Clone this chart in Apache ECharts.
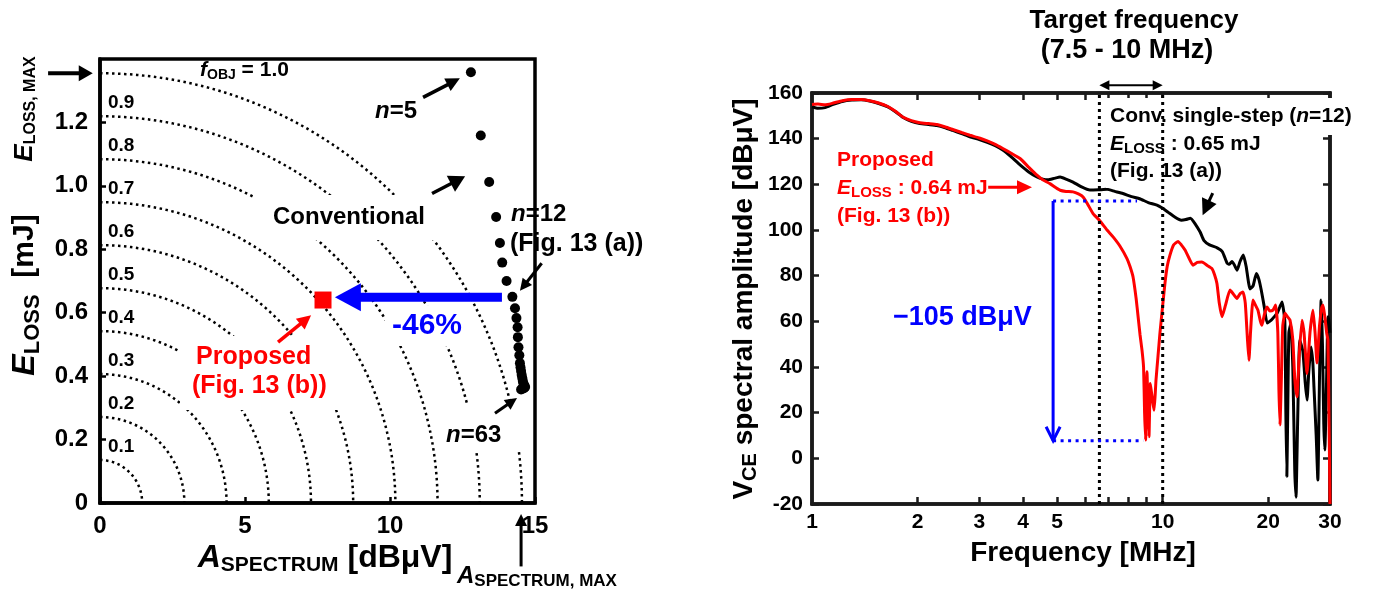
<!DOCTYPE html>
<html>
<head>
<meta charset="utf-8">
<script src="https://cdn.jsdelivr.net/npm/echarts@6/dist/echarts.min.js"></script>
<style>
  html, body { margin: 0; padding: 0; background: #ffffff; }
  #chart { width: 1383px; height: 595px; }
</style>
</head>
<body>
<div id="chart"></div>
<script>
// ---------- Left panel: E_LOSS versus A_SPECTRUM ----------
const A_MAX = 14.55;          // A_SPECTRUM,MAX [dBuV]
const E_MAX = 1.355;          // E_LOSS,MAX [mJ]
const F_OBJ_LEVELS = [0.1, 0.2, 0.3, 0.4, 0.5, 0.6, 0.7, 0.8, 0.9, 1.0];

// conventional single-step designs, n = 5 ... 63
const CONV_A = [12.79, 13.13, 13.42, 13.66, 13.79, 13.87, 14.02, 14.22, 14.31, 14.36,
                14.40, 14.41, 14.43, 14.46, 14.48, 14.50, 14.52, 14.54, 14.56, 14.58,
                14.60, 14.63, 14.66, 14.62, 14.56, 14.52];
const CONV_E = [1.358, 1.159, 1.012, 0.902, 0.820, 0.758, 0.700, 0.650, 0.614, 0.583,
                0.554, 0.523, 0.491, 0.466, 0.441, 0.428, 0.416, 0.404, 0.394, 0.385,
                0.377, 0.371, 0.366, 0.362, 0.360, 0.358];
// proposed design
const PROP_A = [7.69];
const PROP_E = [0.64];

// ---------- Right panel: V_CE spectra ----------
const FREQ_CONV = [1.00, 1.04, 1.09, 1.15, 1.22, 1.30, 1.38, 1.46, 1.55, 1.64,
  1.73, 1.82, 1.92, 2.03, 2.15, 2.27, 2.40, 2.52, 2.67, 2.82,
  3.00, 3.16, 3.33, 3.50, 3.70, 3.92, 4.15, 4.38, 4.55, 4.71,
  4.90, 5.10, 5.30, 5.55, 5.85, 6.20, 6.55, 6.94, 7.30, 7.70,
  8.15, 8.60, 9.10, 9.63, 10.0, 10.4, 10.85, 11.3, 11.65, 12.0,
  12.4, 12.8, 13.1, 13.6, 14.3, 14.8, 15.26, 15.5, 15.76, 16.0,
  16.3, 16.6, 16.98, 17.3, 17.74, 18.1, 18.5, 18.8, 19.1, 19.5,
  19.85, 20.4, 20.8, 21.2, 21.6, 21.9, 22.3, 22.45, 22.6, 22.75,
  22.9, 23.2, 23.5, 23.8, 24.0, 24.25, 24.6, 25.1, 25.5, 25.8,
  26.1, 26.48, 26.8, 27.0, 27.4, 27.7, 28.0, 28.3, 28.55, 28.8,
  29.0, 29.3, 29.6, 29.8, 30.0];
const AMP_CONV = [154.0, 153.3, 153.6, 155.0, 156.3, 156.9, 157.0, 156.5, 155.4, 154.0,
  151.8, 149.3, 147.6, 146.6, 146.2, 145.8, 144.8, 143.6, 142.2, 140.8,
  139.6, 138.4, 136.9, 135.0, 132.0, 128.5, 125.4, 123.2, 122.3, 122.0,
  122.6, 123.2, 122.3, 121.0, 119.0, 117.5, 117.6, 117.8, 116.9, 116.0,
  114.6, 113.7, 112.0, 110.9, 109.5, 107.6, 105.6, 104.3, 104.6, 105.2,
  102.5, 99.0, 95.5, 93.5, 92.2, 90.5, 85.5, 85.0, 86.2, 84.8,
  82.4, 86.0, 89.0, 84.0, 74.2, 75.5, 81.0, 78.5, 73.7, 66.0,
  59.3, 60.5, 62.0, 63.5, 66.5, 68.5, 60.0, 20.0, -8.0, 25.0,
  55.0, 59.0, 40.0, -5.0, -17.0, 15.0, 51.8, 47.0, 33.0, 25.5,
  38.0, 48.8, 42.0, 31.3, 10.0, -9.5, 35.0, 69.3, 50.0, 15.0,
  3.6, 30.0, 62.0, 60.0, 55.0];

const FREQ_PROP = [1.00, 1.04, 1.09, 1.15, 1.22, 1.30, 1.38, 1.46, 1.55, 1.64,
  1.73, 1.82, 1.92, 2.03, 2.15, 2.27, 2.40, 2.52, 2.67, 2.82,
  3.00, 3.16, 3.33, 3.50, 3.70, 3.92, 4.15, 4.38, 4.55, 4.77,
  4.95, 5.10, 5.30, 5.55, 5.75, 5.93, 6.10, 6.33, 6.60, 6.94,
  7.22, 7.55, 7.91, 8.07, 8.23, 8.40, 8.51, 8.62, 8.73, 8.82,
  8.88, 8.94, 8.98, 9.02, 9.08, 9.14, 9.18, 9.22, 9.30, 9.38,
  9.45, 9.52, 9.57, 9.70, 9.82, 10.0, 10.15, 10.3, 10.49, 10.75,
  11.06, 11.3, 11.58, 11.9, 12.2, 12.55, 12.94, 13.4, 13.82, 14.05,
  14.28, 14.5, 14.76, 15.1, 15.56, 15.9, 16.29, 16.6, 16.94, 17.2,
  17.45, 17.62, 17.8, 18.09, 18.4, 18.69, 19.0, 19.19, 19.5, 19.83,
  20.2, 20.63, 21.0, 21.3, 21.45, 21.6, 21.8, 22.0, 22.33, 22.7,
  23.07, 23.5, 23.8, 24.15, 24.5, 24.96, 25.3, 25.79, 26.3, 26.83,
  27.2, 27.54, 28.0, 28.4, 28.65, 29.0, 29.35, 29.6, 29.85, 30.0];
const AMP_PROP = [155.0, 155.2, 154.8, 155.6, 156.6, 157.1, 157.1, 156.6, 155.6, 154.2,
  152.0, 149.4, 147.9, 147.0, 146.6, 146.2, 145.1, 144.0, 142.7, 141.5,
  140.3, 139.0, 137.5, 135.7, 133.6, 131.3, 127.5, 124.0, 122.0, 120.3,
  118.6, 117.4, 116.9, 116.7, 115.8, 114.5, 111.5, 107.2, 104.3, 100.0,
  97.0, 93.0, 87.5, 84.0, 79.5, 70.0, 62.0, 54.0, 47.4, 40.0,
  20.0, 8.0, 25.0, 37.9, 22.0, 9.5, 22.0, 32.8, 28.4, 24.0,
  21.1, 28.0, 34.3, 45.0, 54.7, 67.0, 76.6, 84.0, 89.0, 93.5,
  95.0, 93.5, 91.2, 87.5, 84.6, 85.8, 86.0, 84.5, 83.1, 80.5,
  76.6, 68.0, 62.0, 67.0, 73.7, 72.0, 70.0, 72.0, 72.9, 68.0,
  52.0, 43.0, 55.0, 69.3, 67.0, 64.9, 60.0, 58.3, 63.0, 66.3,
  64.5, 64.9, 67.1, 55.0, 30.0, 14.6, 35.0, 58.0, 63.5, 62.0,
  60.5, 52.0, 35.0, 27.0, 45.0, 60.5, 55.0, 37.2, 55.0, 64.9,
  55.0, 41.7, 58.0, 66.0, 67.1, 62.0, 55.0, 51.8, 10.0, -20.0];

const FREQ_LABELS = [1, 2, 3, 4, 5, 10, 20, 30];
const FREQ_TICKS = [2, 3, 4, 5, 6, 7, 8, 9, 10, 20];
const TARGET_BAND = [6.6, 10];          // MHz, dotted guides
const ATTEN_FREQ = 4.87;                // MHz, where the -105 dBuV arrow sits
const ATTEN_TOP = 112.7;                // dBuV
const ATTEN_BOTTOM = 7.7;               // dBuV

// ---------- shared styling ----------
const FONT = '"Liberation Sans", Arial, Helvetica, sans-serif';
const BLUE = '#0000ff';
const RED = '#ff0000';

// iso-curve of f_OBJ = sqrt((A/A_MAX)^2 + (E/E_MAX)^2)
function fObjContour(level) {
  const pts = [];
  for (let k = 0; k <= 90; k++) {
    const t = k * Math.PI / 180;
    pts.push([level * A_MAX * Math.sin(t), level * E_MAX * Math.cos(t)]);
  }
  return pts;
}

// rich text made of parts, subscripts dropped below the main line
function richText(parts, color) {
  const maxSize = Math.max(...parts.map(p => p.size));
  const L = Math.round(maxSize * 1.2);
  const rich = {};
  let text = '';
  parts.forEach((p, i) => {
    const key = 'p' + i;
    rich[key] = {
      fontSize: p.size, fontFamily: FONT, fontWeight: 'bold',
      fontStyle: p.italic ? 'italic' : 'normal', fill: color, lineHeight: L,
      padding: p.sub ? [Math.round(maxSize * 0.46), 0, 0, 0] : [0, 0, 0, 0]
    };
    text += '{' + key + '|' + p.t + '}';
  });
  return { text, rich };
}

function label(x, y, parts, opts = {}) {
  const style = Object.assign({
    align: opts.align || 'left', verticalAlign: 'middle'
  }, richText(parts, opts.color || '#000'));
  return { type: 'text', x, y, rotation: opts.rotation || 0, z: 100, silent: true, style };
}
const P = (t, size, extra = {}) => Object.assign({ t, size }, extra);

function mask(x, y, w, h) {
  return { type: 'rect', z: 50, silent: true, shape: { x, y, width: w, height: h },
           style: { fill: '#ffffff' } };
}

// arrows and guides drawn through the axes
function arrowShapes(p1, p2, st) {
  const dx = p2[0] - p1[0], dy = p2[1] - p1[1];
  const len = Math.hypot(dx, dy) || 1;
  const ux = dx / len, uy = dy / len, nx = -uy, ny = ux;
  const hl = st.head ? st.head[0] : 0, hw = st.head ? st.head[1] : 0;
  const kids = [];
  let s = p1.slice(), e = p2.slice();
  if (st.kind === 'filled' || st.kind === 'double') e = [p2[0] - ux * hl * 0.7, p2[1] - uy * hl * 0.7];
  if (st.kind === 'double') s = [p1[0] + ux * hl * 0.7, p1[1] + uy * hl * 0.7];
  kids.push({ type: 'line', shape: { x1: s[0], y1: s[1], x2: e[0], y2: e[1] },
    style: { stroke: st.color, lineWidth: st.width, lineDash: st.dash || null, fill: null } });
  const head = (tip, bx, by) => [[tip[0], tip[1]],
    [tip[0] - bx * hl + nx * hw, tip[1] - by * hl + ny * hw],
    [tip[0] - bx * hl - nx * hw, tip[1] - by * hl - ny * hw]];
  if (st.kind === 'filled' || st.kind === 'double') {
    kids.push({ type: 'polygon', shape: { points: head(p2, ux, uy) }, style: { fill: st.color } });
  }
  if (st.kind === 'double') {
    kids.push({ type: 'polygon', shape: { points: head(p1, -ux, -uy) }, style: { fill: st.color } });
  }
  if (st.kind === 'open') {
    const h = head(p2, ux, uy);
    kids.push({ type: 'polyline', shape: { points: [h[1], h[0], h[2]] },
      style: { stroke: st.color, lineWidth: st.width, fill: null } });
  }
  return kids;
}

function annotationSeries(list, xi, yi) {
  return {
    type: 'custom', xAxisIndex: xi, yAxisIndex: yi, z: 80, silent: true, clip: false,
    encode: { x: [0, 2], y: [1, 3] },
    data: list.map(a => [a.from[0], a.from[1], a.to[0], a.to[1]]),
    renderItem: (params, api) => {
      const st = list[params.dataIndex];
      const p1 = api.coord([api.value(0), api.value(1)]);
      const p2 = api.coord([api.value(2), api.value(3)]);
      return { type: 'group', children: arrowShapes(p1, p2, st) };
    }
  };
}

const LEFT_ARROWS = [
  { from: [-1.79, E_MAX], to: [-0.25, E_MAX], kind: 'filled', color: '#000', width: 4, head: [14, 8] },
  { from: [11.14, 1.279], to: [12.41, 1.339], kind: 'filled', color: '#000', width: 3.5, head: [14, 7] },
  { from: [11.45, 0.976], to: [12.59, 1.030], kind: 'filled', color: '#000', width: 3.5, head: [16, 9] },
  { from: [15.23, 0.756], to: [14.48, 0.669], kind: 'filled', color: '#000', width: 3, head: [12, 6] },
  { from: [13.62, 0.283], to: [14.38, 0.331], kind: 'filled', color: '#000', width: 3, head: [12, 6] },
  { from: [6.14, 0.507], to: [7.28, 0.592], kind: 'filled', color: RED, width: 3.5, head: [14, 7] },
  { from: [14.52, -0.20], to: [14.52, -0.035], kind: 'filled', color: '#000', width: 3, head: [12, 6] },
  { from: [13.86, 0.649], to: [8.10, 0.649], kind: 'filled', color: BLUE, width: 9, head: [26, 14] }
];

const RIGHT_GUIDES = [
  { from: [TARGET_BAND[0], -20], to: [TARGET_BAND[0], 160], kind: 'line', color: '#000', width: 3, dash: [3, 4] },
  { from: [TARGET_BAND[1], -20], to: [TARGET_BAND[1], 160], kind: 'line', color: '#000', width: 3, dash: [3, 4] },
  { from: [ATTEN_FREQ, ATTEN_TOP], to: [8.45, ATTEN_TOP], kind: 'line', color: BLUE, width: 3, dash: [3, 4.5] },
  { from: [ATTEN_FREQ, ATTEN_BOTTOM], to: [8.8, ATTEN_BOTTOM], kind: 'line', color: BLUE, width: 3, dash: [3, 4.5] },
  { from: [ATTEN_FREQ, ATTEN_TOP], to: [ATTEN_FREQ, ATTEN_BOTTOM], kind: 'open', color: BLUE, width: 3, head: [14, 7] },
  { from: [3.18, 118.7], to: [4.24, 118.7], kind: 'filled', color: RED, width: 3, head: [15, 7] },
  { from: [13.89, 116.2], to: [13.0, 106.5], kind: 'filled', color: '#000', width: 3, head: [16, 8] },
  { from: [TARGET_BAND[0], 163.4], to: [TARGET_BAND[1], 163.4], kind: 'double', color: '#000', width: 2, head: [10, 5] }
];

const contourSeries = F_OBJ_LEVELS.map(level => ({
  type: 'line', xAxisIndex: 0, yAxisIndex: 0, data: fObjContour(level),
  showSymbol: false, silent: true, z: 2,
  lineStyle: { color: '#000', width: 2.5, type: [2.5, 3.5] }
}));

const contourLabels = {
  type: 'custom', xAxisIndex: 0, yAxisIndex: 0, z: 90, silent: true, clip: false,
  data: F_OBJ_LEVELS.filter(l => l < 1).map(l => [0, l * E_MAX, l]),
  encode: { x: 0, y: 1 },
  renderItem: (params, api) => {
    const p = api.coord([api.value(0), api.value(1)]);
    return { type: 'text', x: p[0] + 8, y: p[1] - 13,
      style: { text: api.value(2).toFixed(1), fontFamily: FONT, fontWeight: 'bold', fontSize: 19,
               fill: '#000', align: 'left', verticalAlign: 'middle' } };
  }
};

const axisLabelL = { color: '#000', fontFamily: FONT, fontWeight: 'bold', fontSize: 24 };
const axisLabelR = { color: '#000', fontFamily: FONT, fontWeight: 'bold', fontSize: 21 };

const option = {
  animation: false,
  backgroundColor: '#ffffff',
  textStyle: { fontFamily: FONT },
  grid: [
    { left: 100, top: 59, width: 435, height: 444, show: true, borderColor: '#000', borderWidth: 3.5, backgroundColor: 'transparent' },
    { left: 812, top: 93, width: 518, height: 411, show: true, borderColor: '#1a1a1a', borderWidth: 3.5, backgroundColor: 'transparent' }
  ],
  xAxis: [
    { gridIndex: 0, type: 'value', min: 0, max: 15, interval: 5,
      axisLine: { onZero: false, lineStyle: { color: '#000', width: 3.5 } },
      axisTick: { inside: true, length: 6, lineStyle: { color: '#000', width: 2.5 } },
      axisLabel: Object.assign({ margin: 11 }, axisLabelL), splitLine: { show: false } },
    { gridIndex: 1, type: 'log', logBase: 10, min: 1, max: 30,
      axisLine: { onZero: false, lineStyle: { color: '#1a1a1a', width: 3.5 } },
      axisTick: { inside: true, length: 7, customValues: FREQ_TICKS, lineStyle: { color: '#1a1a1a', width: 2.5 } },
      axisLabel: Object.assign({ margin: 8, customValues: FREQ_LABELS, formatter: v => String(Math.round(v)) }, axisLabelR),
      splitLine: { show: false }, minorTick: { show: false } },
    { gridIndex: 1, type: 'log', logBase: 10, min: 1, max: 30, position: 'top',
      axisLine: { onZero: false, lineStyle: { color: '#1a1a1a', width: 3.5 } },
      axisTick: { inside: true, length: 7, customValues: FREQ_TICKS, lineStyle: { color: '#1a1a1a', width: 2.5 } },
      axisLabel: { show: false }, splitLine: { show: false } }
  ],
  yAxis: [
    { gridIndex: 0, type: 'value', min: 0, max: 1.4, interval: 0.2,
      axisLine: { onZero: false, lineStyle: { color: '#000', width: 3.5 } },
      axisTick: { inside: true, length: 6, lineStyle: { color: '#000', width: 2.5 } },
      axisLabel: Object.assign({ margin: 12, showMaxLabel: false,
        formatter: v => (v === 0 ? '0' : v.toFixed(1)) }, axisLabelL),
      splitLine: { show: false } },
    { gridIndex: 1, type: 'value', min: -20, max: 160, interval: 20,
      axisLine: { onZero: false, lineStyle: { color: '#1a1a1a', width: 3.5 } },
      axisTick: { inside: true, length: 7, lineStyle: { color: '#1a1a1a', width: 2.5 } },
      axisLabel: Object.assign({ margin: 9 }, axisLabelR), splitLine: { show: false } },
    { gridIndex: 1, type: 'value', min: -20, max: 160, interval: 20, position: 'right',
      axisLine: { onZero: false, lineStyle: { color: '#1a1a1a', width: 3.5 } },
      axisTick: { inside: true, length: 7, lineStyle: { color: '#1a1a1a', width: 2.5 } },
      axisLabel: { show: false }, splitLine: { show: false } }
  ],
  series: [
    ...contourSeries,
    contourLabels,
    { type: 'scatter', name: 'Conventional', xAxisIndex: 0, yAxisIndex: 0, z: 85, silent: true,
      symbol: 'circle', symbolSize: 10, itemStyle: { color: '#000', opacity: 1 },
      data: CONV_A.map((a, i) => [a, CONV_E[i]]) },
    { type: 'scatter', name: 'Proposed', xAxisIndex: 0, yAxisIndex: 0, z: 85, silent: true,
      symbol: 'rect', symbolSize: 17, itemStyle: { color: RED, opacity: 1 },
      data: PROP_A.map((a, i) => [a, PROP_E[i]]) },
    annotationSeries(LEFT_ARROWS, 0, 0),
    { type: 'line', name: 'Conv. single-step', xAxisIndex: 1, yAxisIndex: 1, z: 3, silent: true,
      showSymbol: false, smooth: 0.15, lineStyle: { color: '#000', width: 3 },
      data: FREQ_CONV.map((f, i) => [f, AMP_CONV[i]]) },
    { type: 'line', name: 'Proposed spectrum', xAxisIndex: 1, yAxisIndex: 1, z: 4, silent: true,
      showSymbol: false, smooth: 0.15, lineStyle: { color: RED, width: 3 },
      data: FREQ_PROP.map((f, i) => [f, AMP_PROP[i]]) },
    annotationSeries(RIGHT_GUIDES, 1, 1)
  ],
  graphic: [
    // knock-outs behind the annotation texts
    mask(255, 195, 185, 45),
    mask(180, 336, 160, 74),
    mask(385, 306, 80, 40),
    mask(440, 405, 85, 45),
    mask(1106, 98, 262, 37),
    mask(1106, 98, 165, 90),

    // left panel texts
    label(25, 109, [P('E', 26, { italic: true }), P('LOSS, MAX', 16, { sub: true })], { rotation: Math.PI / 2, align: 'center' }),
    label(25, 295, [P('E', 32, { italic: true }), P('LOSS', 22, { sub: true }), P('  [mJ]', 30)], { rotation: Math.PI / 2, align: 'center' }),
    label(325, 558, [P('A', 32, { italic: true }), P('SPECTRUM', 21, { sub: true }), P(' [dBμV]', 32)], { align: 'center' }),
    label(457, 576, [P('A', 24, { italic: true }), P('SPECTRUM, MAX', 17, { sub: true })]),
    label(200, 70, [P('f', 21, { italic: true }), P('OBJ', 14, { sub: true }), P(' = 1.0', 21)]),
    label(375, 111, [P('n', 24, { italic: true }), P('=5', 24)]),
    label(273, 217, [P('Conventional', 24)]),
    label(511, 214, [P('n', 24, { italic: true }), P('=12', 24)]),
    label(510, 244, [P('(Fig. 13 (a))', 25)]),
    label(392, 326, [P('-46%', 30)], { color: BLUE }),
    label(196, 357, [P('Proposed', 25)], { color: RED }),
    label(192, 386, [P('(Fig. 13 (b))', 25)], { color: RED }),
    label(446, 435, [P('n', 24, { italic: true }), P('=63', 24)]),

    // right panel texts
    label(1134, 21, [P('Target frequency', 26)], { align: 'center' }),
    label(1127, 51, [P('(7.5 - 10 MHz)', 27)], { align: 'center' }),
    label(1110, 116, [P('Conv. single-step (', 21), P('n', 21, { italic: true }), P('=12)', 21)]),
    label(1110, 144, [P('E', 21, { italic: true }), P('LOSS', 15, { sub: true }), P(' : 0.65 mJ', 21)]),
    label(1110, 171, [P('(Fig. 13 (a))', 21)]),
    label(837, 160, [P('Proposed', 21)], { color: RED }),
    label(837, 188, [P('E', 21, { italic: true }), P('LOSS', 15, { sub: true }), P(' : 0.64 mJ', 21)], { color: RED }),
    label(837, 216, [P('(Fig. 13 (b))', 21)], { color: RED }),
    label(893, 318, [P('\u2212105 dBμV', 27)], { color: BLUE }),
    label(744, 299, [P('V', 28), P('CE', 20, { sub: true }), P(' spectral amplitude [dBμV]', 28)], { rotation: Math.PI / 2, align: 'center' }),
    label(1083, 553, [P('Frequency [MHz]', 28)], { align: 'center' })
  ]
};

const chart = echarts.init(document.getElementById('chart'), null, { renderer: 'canvas' });
chart.setOption(option);
</script>
</body>
</html>
